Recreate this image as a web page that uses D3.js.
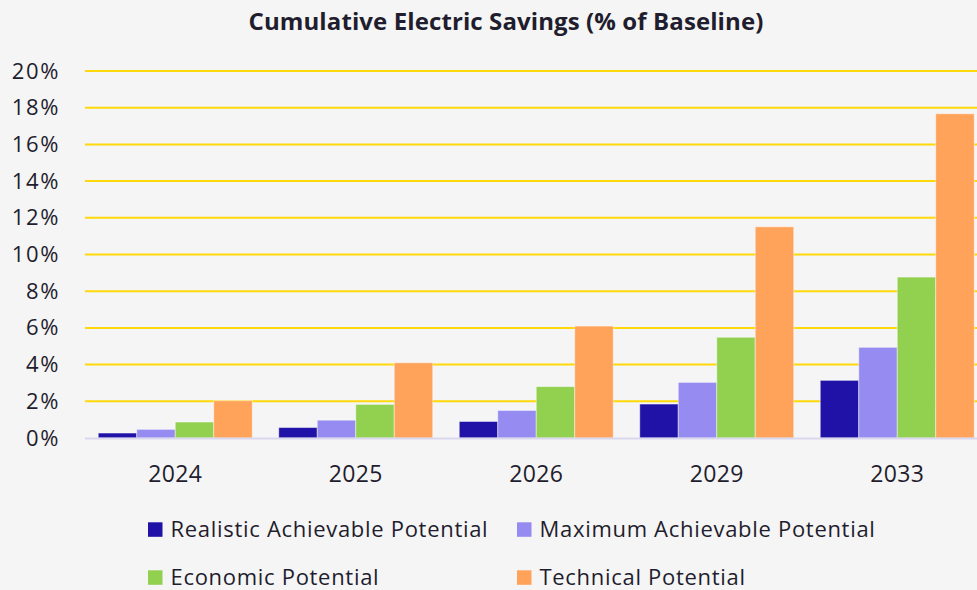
<!DOCTYPE html>
<html>
<head>
<meta charset="utf-8">
<script src="https://cdn.jsdelivr.net/npm/d3@7"></script>
<style>
html,body{margin:0;padding:0;background:#f5f5f5;}
svg{display:block;}
text{font-family:"Open Sans",sans-serif;fill:#1f1d2e;}
</style>
</head>
<body>
<svg id="chart" width="977" height="590"></svg>
<script>
const years = ["2024", "2025", "2026", "2029", "2033"];
const seriesNames = ["Realistic Achievable Potential", "Maximum Achievable Potential", "Economic Potential", "Technical Potential"];
const realistic = [0.27, 0.57, 0.90, 1.85, 3.14];
const maximum   = [0.47, 0.97, 1.50, 3.03, 4.94];
const economic  = [0.87, 1.83, 2.80, 5.49, 8.77];
const technical = [2.03, 4.10, 6.10, 11.51, 17.67];
const yTicks = [0, 2, 4, 6, 8, 10, 12, 14, 16, 18, 20];
const colors = ["#2012a6", "#958bf0", "#92d050", "#ffa35a"];
const titleText = "Cumulative Electric Savings (% of Baseline)";

const seriesValues = [realistic, maximum, economic, technical];
const svg = d3.select("#chart");
const W = 977, H = 590;
svg.append("rect").attr("width", W).attr("height", H).attr("fill", "#f5f5f5");

const y = d3.scaleLinear().domain([0, 20]).range([438, 71]);
const x0 = d3.scaleBand().domain(years).range([85, 987.5]).paddingInner(0.147).paddingOuter(0.0735);
const x1 = d3.scaleBand().domain(seriesNames).range([0, x0.bandwidth()]);

// title
svg.append("text").attr("x", 506).attr("y", 30).attr("text-anchor", "middle")
  .attr("font-size", 24).attr("font-weight", 700).attr("letter-spacing", 0.1).text(titleText);

// gridlines
svg.append("g").selectAll("line").data(yTicks.filter(t => t > 0)).join("line")
  .attr("x1", 85).attr("x2", W).attr("y1", d => y(d)).attr("y2", d => y(d))
  .attr("stroke", "#ffd80a").attr("stroke-width", 2);

// y axis labels
const yAxis = d3.axisLeft(y).tickValues(yTicks).tickFormat(d => d + "%").tickSize(0).tickPadding(0);
const gy = svg.append("g").attr("transform", "translate(60,0)").call(yAxis);
gy.select(".domain").remove();
gy.selectAll("text").attr("font-size", 22).attr("font-family", "Open Sans").attr("fill", "#1f1d2e")
  .attr("letter-spacing", 1.6);

// bars
const groups = svg.append("g").selectAll("g").data(years).join("g")
  .attr("transform", d => `translate(${x0(d)},0)`);
groups.selectAll("rect").data((d, i) => seriesNames.map((s, j) => ({s, v: seriesValues[j][i], c: colors[j]})))
  .join("rect")
  .attr("x", d => x1(d.s)).attr("width", x1.bandwidth())
  .attr("y", d => y(d.v)).attr("height", d => y(0) - y(d.v))
  .attr("fill", d => d.c).attr("stroke", "rgba(255,255,255,0.45)").attr("stroke-width", 1);

// x axis baseline
svg.append("line").attr("x1", 85).attr("x2", W).attr("y1", 438.5).attr("y2", 438.5)
  .attr("stroke", "#dad8ee").attr("stroke-width", 2);

const xAxis = d3.axisBottom(x0).tickSize(0).tickPadding(0);
const gx = svg.append("g").attr("transform", "translate(0,482)").call(xAxis);
gx.select(".domain").remove();
gx.selectAll("text").attr("font-size", 23).attr("font-family", "Open Sans").attr("fill", "#1f1d2e")
  .attr("dy", 0).attr("y", 0).attr("letter-spacing", 0.3);

// legend
const legPos = [[148, 529.5], [517, 529.5], [148, 577.5], [517, 577.5]];
const leg = svg.append("g").selectAll("g").data(seriesNames).join("g")
  .attr("transform", (d, i) => `translate(${legPos[i][0]},${legPos[i][1]})`);
leg.append("rect").attr("x", 0).attr("y", -7.2).attr("width", 14.5).attr("height", 14.5)
  .attr("fill", (d, i) => colors[i]);
leg.append("text").attr("x", 22.5).attr("y", 0).attr("dy", "0.36em")
  .attr("font-size", 22).attr("letter-spacing", 0.7).text(d => d);
</script>
</body>
</html>
